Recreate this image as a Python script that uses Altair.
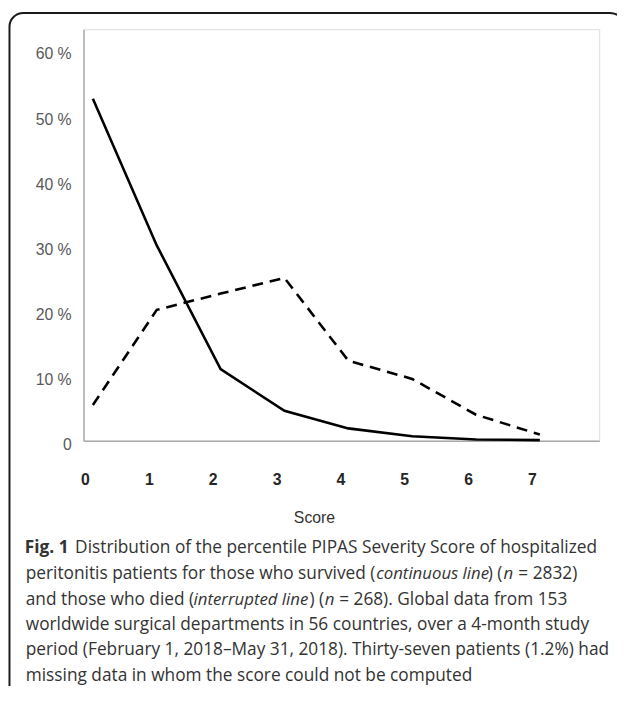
import altair as alt
import pandas as pd

# ---- data ----
scores = [0, 1, 2, 3, 4, 5, 6, 7]
survived_pct = [52.5, 30.0, 11.0, 4.6, 1.9, 0.7, 0.2, 0.1]
died_pct = [5.5, 20.1, 22.6, 25.0, 12.3, 9.5, 4.0, 0.95]
y_ticks = [0, 10, 20, 30, 40, 50, 60]
x_title = "Score"

caption_fig = "Fig. 1"
caption_l1 = "Distribution of the percentile PIPAS Severity Score of hospitalized"
caption_l2 = ["peritonitis patients for those who survived (", "continuous line", ") (", "n", "= 2832)"]
caption_l3 = ["and those who died (", "interrupted line", ") (", "n", "= 268). Global data from 153"]
caption_l4 = "worldwide surgical departments in 56 countries, over a 4-month study"
caption_l5 = "period (February 1, 2018\u2013May 31, 2018). Thirty-seven patients (1.2%) had"
caption_l6 = "missing data in whom the score could not be computed"

# ---- layout (page pixels) ----
PL, PT = 84.5, 25.0          # plot origin on page
W, H = 522.5, 417.0
CAP_FONT = "Open Sans"
CAP_SIZE = 17.5
ITAL_SIZE = 17
CAP_COLOR = "#333333"
line_y = [551, 577, 603, 628.5, 654, 680]
l2_x = [26, 381, 494, 510, 525]
l3_x = [26, 196, 313.5, 329, 343.5]

df_s = pd.DataFrame({"score": scores, "pct": survived_pct})
df_d = pd.DataFrame({"score": scores, "pct": died_pct})

xscale = alt.Scale(domain=[-0.147, 7.93], nice=False, zero=False)
yscale = alt.Scale(domain=[0, 63.2], nice=False)

xaxis = alt.Axis(
    values=scores, format="d", grid=False, ticks=False,
    domainColor="#a9a9a9", domainWidth=1.5,
    labelFont="Liberation Sans", labelFontSize=16, labelFontWeight="bold",
    labelColor="#262626", labelPadding=39, labelBaseline="middle", labelOffset=-8,
    title=x_title, titleFont="Liberation Sans", titleFontSize=16, titleFontWeight="normal",
    titleColor="#333333", titleX=318 - PL, titleY=520 - (PT + H), titleBaseline="middle",
    titleAlign="center", titleAnchor="start",
)
yaxis = alt.Axis(
    values=y_ticks, grid=False, ticks=False,
    domainColor="#a9a9a9", domainWidth=1.5,
    labelFont="Liberation Sans", labelFontSize=16, labelColor="#595959",
    labelPadding=12.5, labelOffset=4, labelBaseline="middle",
    labelExpr="datum.value == 0 ? '0' : format(datum.value, 'd') + ' %'",
    title=None,
)

solid = alt.Chart(df_s).mark_line(color="black", strokeWidth=2.6).encode(
    x=alt.X("score:Q", scale=xscale, axis=xaxis),
    y=alt.Y("pct:Q", scale=yscale, axis=yaxis),
)
dashed = alt.Chart(df_d).mark_line(color="black", strokeWidth=2.6, strokeDash=[11, 7]).encode(
    x=alt.X("score:Q", scale=xscale),
    y=alt.Y("pct:Q", scale=yscale),
)

one = pd.DataFrame({"k": [0]})
frame = alt.Chart(one).mark_rect(
    fill=None, stroke="#1a1a1a", strokeWidth=2, cornerRadius=14, clip=False
).encode(
    x=alt.value(9.5 - PL), x2=alt.value(632 - PL),
    y=alt.value(8.5 - PT), y2=alt.value(712 - PT),
)


def txt(text, px, py, weight="normal", style="normal", size=CAP_SIZE):
    return alt.Chart(pd.DataFrame({"t": [text]})).mark_text(
        align="left", baseline="middle", font=CAP_FONT, fontSize=size,
        fontWeight=weight, fontStyle=style, color=CAP_COLOR, clip=False,
    ).encode(x=alt.value(px - PL), y=alt.value(py - PT), text="t:N")


def seg_layers(segs, xs, py):
    out = []
    for i, seg in enumerate(segs):
        ital = i in (1, 3)
        out.append(txt(seg, xs[i], py, style="italic" if ital else "normal",
                       size=ITAL_SIZE if ital else CAP_SIZE))
    return out


layers = [frame, solid, dashed]
layers.append(txt(caption_fig, 25, line_y[0], weight="bold"))
layers.append(txt(caption_l1, 76, line_y[0]))
layers += seg_layers(caption_l2, l2_x, line_y[1])
layers += seg_layers(caption_l3, l3_x, line_y[2])
layers.append(txt(caption_l4, 26, line_y[3]))
layers.append(txt(caption_l5, 26, line_y[4]))
layers.append(txt(caption_l6, 26, line_y[5]))

chart = alt.layer(*layers).properties(
    width=W, height=H,
    padding={"left": PL - 8, "top": PT - 8, "right": 617 - (PL - 8) - W, "bottom": 678 - (PT - 8) - H},
    autosize=alt.AutoSizeParams(type="none"),
).configure_view(stroke=None).configure(background="white")

chart.save("out.html", embed_options={"renderer": "svg", "actions": False})
